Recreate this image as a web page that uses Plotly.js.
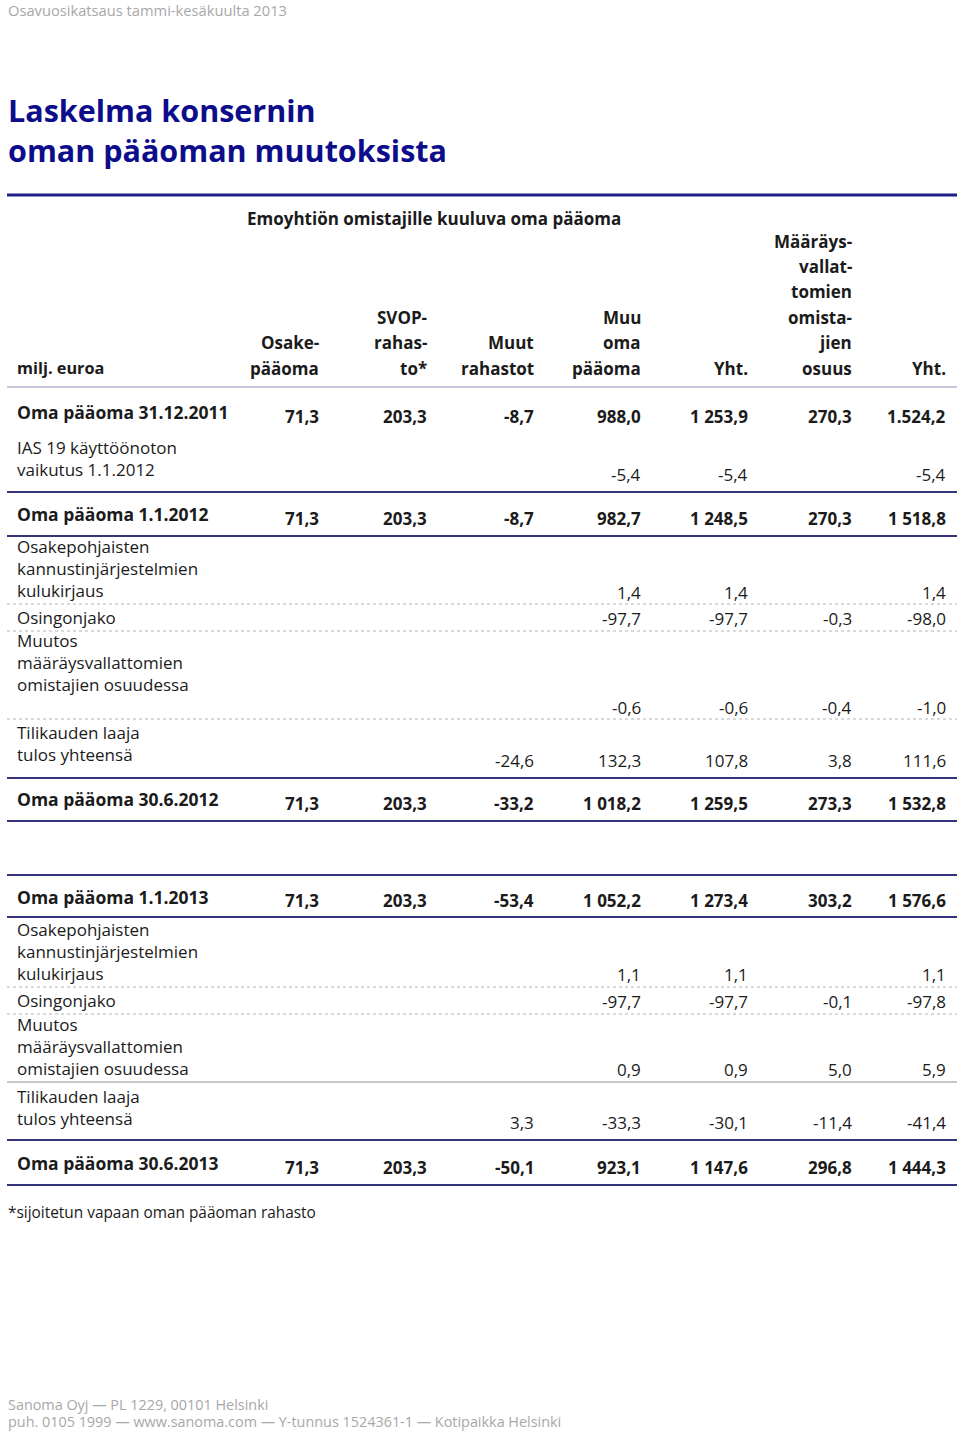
<!DOCTYPE html>
<html><head><meta charset="utf-8">
<script src="https://cdn.plot.ly/plotly-3.0.1.min.js"></script>
<style>html,body{margin:0;padding:0;background:#fff}#chart{width:960px;height:1431px}</style>
</head><body><div id="chart"></div>
<script>
// ---------- DATA ----------
const pageHeader = 'Osavuosikatsaus tammi-kesäkuulta 2013';
const titleLines = ['Laskelma konsernin', 'oman pääoman muutoksista'];
const groupHeader = 'Emoyhtiön omistajille kuuluva oma pääoma';
const stubHeader = 'milj. euroa';
const columnHeaders = [
  ['Osake-', 'pääoma'],
  ['SVOP-', 'rahas-', 'to*'],
  ['Muut', 'rahastot'],
  ['Muu', 'oma', 'pääoma'],
  ['Yht.'],
  ['Määräys-', 'vallat-', 'tomien', 'omista-', 'jien', 'osuus'],
  ['Yht.']
];
const rowLabels = [
  'Oma pääoma 31.12.2011',
  'IAS 19 käyttöönoton<br>vaikutus 1.1.2012',
  'Oma pääoma 1.1.2012',
  'Osakepohjaisten<br>kannustinjärjestelmien<br>kulukirjaus',
  'Osingonjako',
  'Muutos<br>määräysvallattomien<br>omistajien osuudessa',
  'Tilikauden laaja<br>tulos yhteensä',
  'Oma pääoma 30.6.2012',
  'Oma pääoma 1.1.2013',
  'Osakepohjaisten<br>kannustinjärjestelmien<br>kulukirjaus',
  'Osingonjako',
  'Muutos<br>määräysvallattomien<br>omistajien osuudessa',
  'Tilikauden laaja<br>tulos yhteensä',
  'Oma pääoma 30.6.2013'
];
const boldRows = [true, false, true, false, false, false, false, true, true, false, false, false, false, true];
const osakepaaoma  = ['71,3', null, '71,3', null, null, null, null, '71,3', '71,3', null, null, null, null, '71,3'];
const svopRahasto  = ['203,3', null, '203,3', null, null, null, null, '203,3', '203,3', null, null, null, null, '203,3'];
const muutRahastot = ['-8,7', null, '-8,7', null, null, null, '-24,6', '-33,2', '-53,4', null, null, null, '3,3', '-50,1'];
const muuOmaPaaoma = ['988,0', '-5,4', '982,7', '1,4', '-97,7', '-0,6', '132,3', '1 018,2', '1 052,2', '1,1', '-97,7', '0,9', '-33,3', '923,1'];
const yhtEmo       = ['1 253,9', '-5,4', '1 248,5', '1,4', '-97,7', '-0,6', '107,8', '1 259,5', '1 273,4', '1,1', '-97,7', '0,9', '-30,1', '1 147,6'];
const mvoOsuus     = ['270,3', null, '270,3', null, '-0,3', '-0,4', '3,8', '273,3', '303,2', null, '-0,1', '5,0', '-11,4', '296,8'];
const yhtKaikki    = ['1.524,2', '-5,4', '1 518,8', '1,4', '-98,0', '-1,0', '111,6', '1 532,8', '1 576,6', '1,1', '-97,8', '5,9', '-41,4', '1 444,3'];
const footnote = '*sijoitetun vapaan oman pääoman rahasto';
const footerLines = ['Sanoma Oyj — PL 1229, 00101 Helsinki', 'puh. 0105 1999 — www.sanoma.com — Y-tunnus 1524361-1 — Kotipaikka Helsinki'];

// ---------- LAYOUT GEOMETRY ----------
const columns = [osakepaaoma, svopRahasto, muutRahastot, muuOmaPaaoma, yhtEmo, mvoOsuus, yhtKaikki];
const colRight = [319, 427, 534, 641, 748, 852, 946];
const labelX = 17;
const labelCenterY = [412, 458, 514, 568.5, 617, 662.5, 743.5, 799, 897, 951.5, 1000, 1046.5, 1107, 1163];
const valueY = [416, 474, 518, 592, 618, 707, 760, 803, 900, 974, 1001, 1069, 1122, 1167];
const headerBottomY = 368, headerStep = 25.4;
const rules = [
  {y: 195, kind: 'thick'}, {y: 387, kind: 'thin'},
  {y: 492, kind: 'blue'}, {y: 536, kind: 'blue'},
  {y: 604, kind: 'dot'}, {y: 631, kind: 'dot'}, {y: 719, kind: 'dot'},
  {y: 778, kind: 'blue'}, {y: 821, kind: 'blue'},
  {y: 875, kind: 'blue'}, {y: 917, kind: 'blue'},
  {y: 987, kind: 'dot'}, {y: 1014, kind: 'dot'}, {y: 1082, kind: 'gray'},
  {y: 1140, kind: 'blue'}, {y: 1185, kind: 'blue'}
];
const ruleStyle = {
  thick: {color: '#1f1f8a', width: 3},
  thin: {color: '#9090b4', width: 1.2},
  blue: {color: '#34347f', width: 2},
  dot: {color: '#b4b4b4', width: 1, dash: 'dot'},
  gray: {color: '#c8c8c8', width: 2}
};

const BODY = '"Open Sans", Lato, sans-serif';
const navy = '#0d0d8c', ink = '#1b1b1b', gray = '#a8a8a8';
const SZ = 17;

const ann = [];
function A(text, x, y, xa, size, color, bold, extra) {
  ann.push(Object.assign({
    text: bold ? '<b>' + text + '</b>' : text, x: x, y: y, xref: 'x', yref: 'y',
    xanchor: xa, yanchor: 'middle', showarrow: false, align: xa === 'right' ? 'right' : 'left',
    borderpad: 0, borderwidth: 0,
    font: {family: BODY, size: size, color: color}
  }, extra || {}));
}
A(pageHeader, 8, 0, 'left', 14.7, gray, false, {yanchor: 'top'});
A(titleLines.join('<br>'), 8, 129.5, 'left', 30.5, navy, true);
A(groupHeader, 247, 218, 'left', SZ, ink, true);
A(stubHeader, 17, headerBottomY, 'left', 16.3, ink, true);
columnHeaders.forEach((lines, c) => {
  lines.forEach((ln, i) => {
    const y = headerBottomY - (lines.length - 1 - i) * headerStep;
    A(ln, colRight[c], y, 'right', SZ, ink, true);
  });
});
rowLabels.forEach((lab, r) => {
  A(lab, labelX, labelCenterY[r], 'left', boldRows[r] ? 17.5 : SZ, ink, boldRows[r]);
});
columns.forEach((col, c) => {
  col.forEach((v, r) => {
    if (v === null) return;
    A(v, colRight[c], valueY[r], 'right', SZ, ink, boldRows[r]);
  });
});
A(footnote, 8, 1212, 'left', 15.4, ink, false);
A(footerLines[0], 8, 1404, 'left', 14.4, gray, false);
A(footerLines[1], 8, 1421, 'left', 14.4, gray, false);

const shapes = rules.map(r => ({
  type: 'line', xref: 'x', yref: 'y', x0: 7, x1: 957, y0: r.y, y1: r.y,
  line: ruleStyle[r.kind]
}));

const layout = {
  width: 960, height: 1431,
  margin: {l: 0, r: 0, t: 0, b: 0},
  paper_bgcolor: '#fff', plot_bgcolor: '#fff',
  xaxis: {range: [0, 960], visible: false, fixedrange: true},
  yaxis: {range: [1431, 0], visible: false, fixedrange: true},
  showlegend: false,
  annotations: ann,
  shapes: shapes
};
Plotly.newPlot('chart', [{x: [], y: [], type: 'scatter', mode: 'markers', hoverinfo: 'skip'}], layout, {staticPlot: true});
</script>
</body></html>
